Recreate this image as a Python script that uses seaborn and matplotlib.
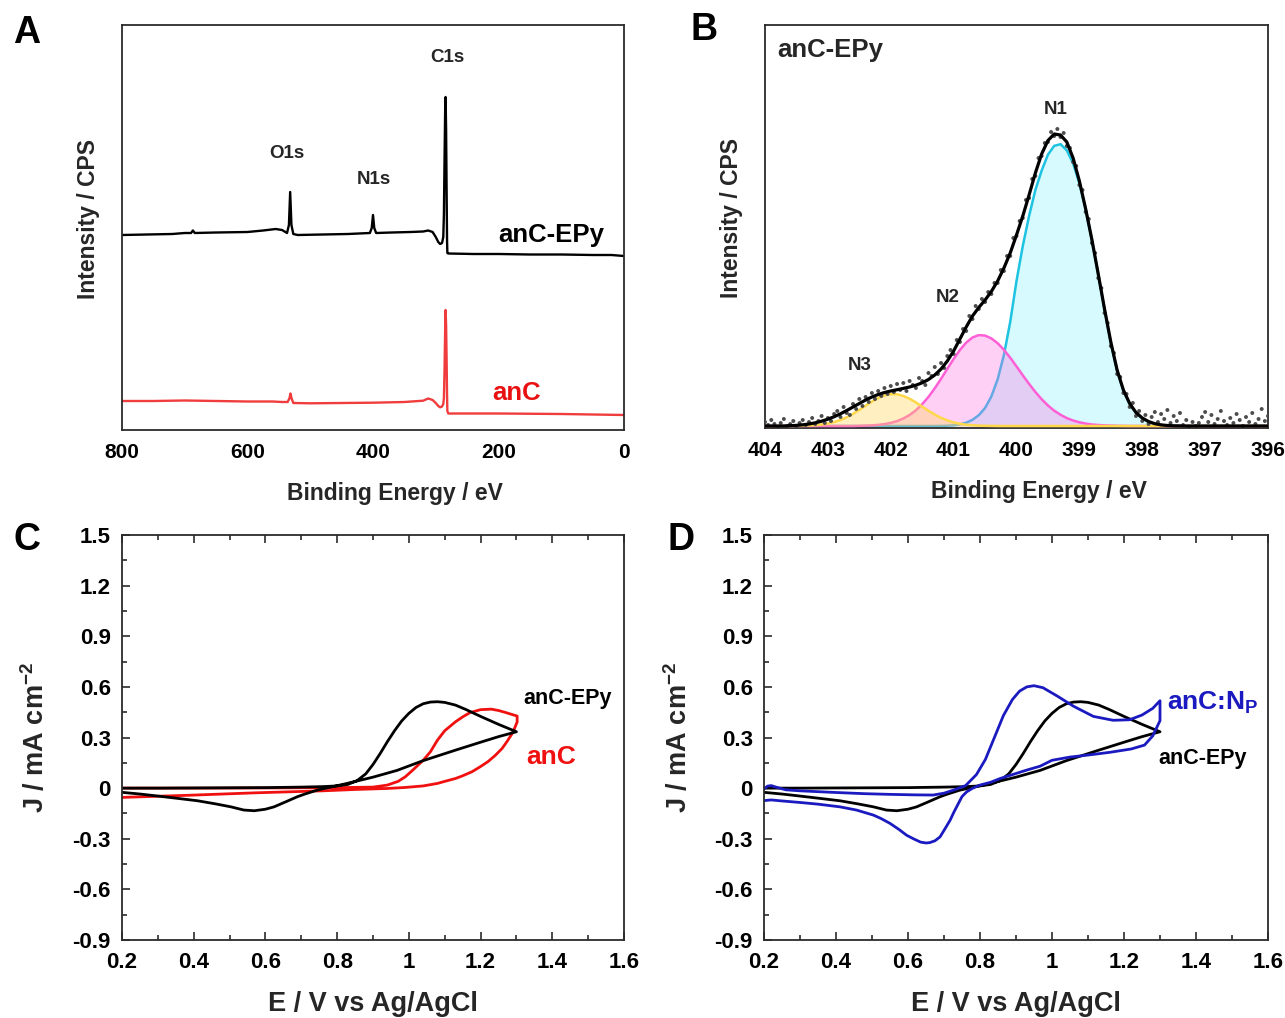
import matplotlib
matplotlib.use("Agg")
import matplotlib.pyplot as plt
import seaborn as sns
import numpy as np
from matplotlib.ticker import MultipleLocator, FuncFormatter

# ---------------- Panel A: XPS survey ----------------
A_BE_EPY = [800, 760, 720, 700, 690, 687, 684, 650, 600, 575,
            555, 545, 537, 534, 532, 530, 527, 520, 480, 440,
            405, 402, 400, 398, 395, 370, 340, 320, 312, 305,
            300, 296, 293, 290, 288, 287, 286, 285, 284.3, 283.5,
            282.7, 282, 281.5, 280, 240, 200, 150, 100, 50, 20, 0]
A_I_EPY = [195, 195.5, 196, 197, 197, 199.5, 197, 197.5, 198, 199.5,
           201, 200, 197, 205, 238, 205, 196, 195, 195.5, 196,
           197, 202, 215, 202, 197, 197.5, 198, 198.5, 199.5, 198,
           193, 188, 186, 187, 193, 215, 270, 320, 333, 300,
           240, 190, 177, 176.5, 176, 176, 175.5, 175.5, 175, 175, 174]
A_BE_ANC = [800, 750, 700, 650, 600, 560, 545, 536, 533, 531.5,
            530, 527, 500, 450, 400, 350, 320, 312, 305, 300,
            296, 293, 290, 288, 287, 286, 285, 284.3, 283.5, 282.7,
            282, 281.5, 280, 200, 100, 0]
A_I_ANC = [29, 29, 29.5, 29, 28.5, 28.5, 28, 28, 32, 36.5,
           32, 27, 26.7, 27, 27.3, 28, 29.3, 31.5, 30, 27,
           24, 22.7, 23.5, 26, 32, 60, 100, 120, 105, 70,
           35, 19, 16.5, 16.5, 16, 15]

# ---------------- Panel B: N1s high resolution ----------------
B_BE = [404.0, 403.9, 403.8, 403.7, 403.6, 403.5, 403.4, 403.3, 403.2, 403.1,
        403.0, 402.9, 402.8, 402.7, 402.6, 402.5, 402.4, 402.3, 402.2, 402.1,
        402.0, 401.9, 401.8, 401.7, 401.6, 401.5, 401.4, 401.3, 401.2, 401.1,
        401.0, 400.9, 400.8, 400.7, 400.6, 400.5, 400.4, 400.3, 400.2, 400.1,
        400.0, 399.9, 399.8, 399.7, 399.6, 399.5, 399.4, 399.3, 399.2, 399.1,
        399.0, 398.9, 398.8, 398.7, 398.6, 398.5, 398.4, 398.3, 398.2, 398.1,
        398.0, 397.9, 397.8, 397.7, 397.6, 397.5, 397.4, 397.3, 397.2, 397.1,
        397.0, 396.9, 396.8, 396.7, 396.6, 396.5, 396.4, 396.3, 396.2, 396.1, 396.0]
B_N3 = [0, 0, 0, 0, 0, 0.1, 0.2, 0.5, 0.8, 1.5,
        2.5, 4.0, 6.0, 8.8, 12.2, 16.1, 20.3, 24.4, 27.9, 30.5,
        31.9, 31.7, 30.1, 27.3, 23.6, 19.4, 15.3, 11.4, 8.2, 5.6,
        3.6, 2.2, 1.3, 0.8, 0.4, 0.2, 0.1, 0, 0, 0,
        0, 0, 0, 0, 0, 0, 0, 0, 0, 0,
        0, 0, 0, 0, 0, 0, 0, 0, 0, 0,
        0, 0, 0, 0, 0, 0, 0, 0, 0, 0,
        0, 0, 0, 0, 0, 0, 0, 0, 0, 0, 0]
B_N2 = [0, 0, 0, 0, 0, 0, 0, 0, 0, 0,
        0, 0, 0, 0, 0, 0.2, 0.4, 0.6, 1.1, 1.9,
        3.1, 4.9, 7.5, 11.0, 15.7, 21.8, 29.1, 37.7, 47.2, 57.2,
        67.0, 76.0, 83.4, 88.5, 90.9, 90.4, 87.6, 82.8, 76.2, 68.3,
        59.6, 50.7, 42.1, 34.0, 26.8, 20.5, 15.3, 11.2, 7.9, 5.5,
        3.7, 2.4, 1.5, 1.0, 0.6, 0.4, 0.2, 0.1, 0, 0,
        0, 0, 0, 0, 0, 0, 0, 0, 0, 0,
        0, 0, 0, 0, 0, 0, 0, 0, 0, 0, 0]
B_N1 = [0, 0, 0, 0, 0, 0, 0, 0, 0, 0,
        0, 0, 0, 0, 0, 0, 0, 0, 0, 0,
        0, 0, 0, 0, 0, 0, 0, 0, 0.1, 0.3,
        0.7, 1.6, 3.3, 6.2, 10.8, 18.0, 29.5, 46.6, 71.0, 104.0,
        145.0, 180.0, 210.0, 236.0, 255.4, 271.3, 280.2, 281.8, 275.7, 262.6,
        242.8, 217.0, 185.8, 151.5, 116.5, 83.0, 55.4, 35.5, 22.0, 13.2,
        7.8, 4.2, 2.1, 1.0, 0.4, 0.2, 0.1, 0, 0, 0,
        0, 0, 0, 0, 0, 0, 0, 0, 0, 0, 0]
B_FIT = [0, 0, 0, 0, 0.3, 0.6, 1.2, 2.0, 3.2, 4.8,
         6.8, 9.3, 12.2, 15.5, 19.0, 22.5, 26.0, 29.0, 31.5, 33.5,
         35.0, 36.3, 37.6, 39.0, 40.8, 43.2, 46.5, 51.0, 57.0, 65.0,
         75.0, 87.0, 99.0, 110.0, 118.5, 126.0, 134.5, 145.0, 158.0, 173.0,
         191.0, 210.0, 231.0, 253.0, 272.0, 285.5, 292.0, 291.0, 284.0, 268.0,
         245.0, 217.0, 186.0, 152.0, 117.0, 84.0, 56.0, 36.0, 22.5, 13.5,
         8.0, 4.5, 2.3, 1.1, 0.5, 0.2, 0.1, 0, 0, 0,
         0, 0, 0, 0, 0, 0, 0, 0, 0, 0, 0]
B_RAW_BE = [404.00, 403.95, 403.90, 403.85, 403.80, 403.75, 403.70, 403.65, 403.60, 403.55,
            403.50, 403.45, 403.40, 403.35, 403.30, 403.25, 403.20, 403.15, 403.10, 403.05,
            403.00, 402.95, 402.90, 402.85, 402.80, 402.75, 402.70, 402.65, 402.60, 402.55,
            402.50, 402.45, 402.40, 402.35, 402.30, 402.25, 402.20, 402.15, 402.10, 402.05,
            402.00, 401.95, 401.90, 401.85, 401.80, 401.75, 401.70, 401.65, 401.60, 401.55,
            401.50, 401.45, 401.40, 401.35, 401.30, 401.25, 401.20, 401.15, 401.10, 401.05,
            401.00, 400.95, 400.90, 400.85, 400.80, 400.75, 400.70, 400.65, 400.60, 400.55,
            400.50, 400.45, 400.40, 400.35, 400.30, 400.25, 400.20, 400.15, 400.10, 400.05,
            400.00, 399.95, 399.90, 399.85, 399.80, 399.75, 399.70, 399.65, 399.60, 399.55,
            399.50, 399.45, 399.40, 399.35, 399.30, 399.25, 399.20, 399.15, 399.10, 399.05,
            399.00, 398.95, 398.90, 398.85, 398.80, 398.75, 398.70, 398.65, 398.60, 398.55,
            398.50, 398.45, 398.40, 398.35, 398.30, 398.25, 398.20, 398.15, 398.10, 398.05,
            398.00, 397.95, 397.90, 397.85, 397.80, 397.75, 397.70, 397.65, 397.60, 397.55,
            397.50, 397.45, 397.40, 397.35, 397.30, 397.25, 397.20, 397.15, 397.10, 397.05,
            397.00, 396.95, 396.90, 396.85, 396.80, 396.75, 396.70, 396.65, 396.60, 396.55,
            396.50, 396.45, 396.40, 396.35, 396.30, 396.25, 396.20, 396.15, 396.10, 396.05,
            396.00]
B_RAW_I = [4, 1, 6, 2, -1, 3, 7, 0, 2, 5,
           -1, 3, 6, 1, 4, 8, 2, 5, 10, 3,
           8, 5, 12, 15, 9, 19, 13, 11, 22, 17,
           27, 20, 29, 24, 33, 27, 35, 30, 38, 32,
           40, 34, 42, 36, 43, 35, 45, 41, 38, 48,
           45, 41, 53, 50, 59, 52, 63, 58, 70, 76,
           72, 86, 84, 97, 95, 110, 107, 120, 117, 127,
           124, 134, 132, 143, 143, 156, 155, 170, 170, 188,
           190, 205, 208, 226, 228, 247, 250, 268, 270, 283,
           284, 294, 290, 297, 289, 293, 280, 278, 264, 260,
           241, 236, 214, 207, 183, 173, 148, 138, 113, 103,
           80, 73, 52, 49, 33, 32, 19, 23, 10, 15,
           5, 11, 2, 9, 14, 4, 12, 7, 16, 3,
           10, 5, 13, 1, 6, -2, 4, 0, 3, 9,
           14, 4, 11, 2, 7, 15, 5, 1, 8, 3,
           12, 6, 0, 9, 4, 13, 2, 7, 17, 5,
           10]

# ---------------- Panels C, D: cyclic voltammetry ----------------
EPY_E = [0.20, 0.30, 0.40, 0.50, 0.60, 0.70, 0.76, 0.80, 0.83, 0.856,
         0.88, 0.90, 0.92, 0.94, 0.96, 0.98, 1.00, 1.02, 1.04, 1.06,
         1.08, 1.10, 1.13, 1.16, 1.20, 1.25, 1.30,
         1.25, 1.20, 1.13, 1.04, 0.967, 0.90, 0.828, 0.78, 0.744, 0.71,
         0.689, 0.66, 0.624, 0.60, 0.569, 0.54, 0.504, 0.46, 0.411, 0.36,
         0.30, 0.25, 0.20]
EPY_J = [0.000, 0.000, 0.001, 0.002, 0.003, 0.006, 0.009, 0.013, 0.022, 0.045,
         0.085, 0.140, 0.205, 0.275, 0.340, 0.398, 0.443, 0.478, 0.500, 0.510,
         0.512, 0.508, 0.492, 0.465, 0.425, 0.378, 0.334,
         0.305, 0.272, 0.225, 0.163, 0.105, 0.065, 0.028, 0.005, -0.012, -0.035,
         -0.051, -0.078, -0.111, -0.125, -0.134, -0.130, -0.111, -0.093, -0.075, -0.062,
         -0.047, -0.035, -0.025]
ANC_E = [0.20, 0.40, 0.60, 0.80, 0.90, 0.94, 0.97, 0.99, 1.01, 1.04,
         1.06, 1.08, 1.10, 1.13, 1.15, 1.17, 1.20, 1.23, 1.25, 1.27,
         1.302, 1.302,
         1.29, 1.275, 1.26, 1.24, 1.22, 1.20, 1.176, 1.15, 1.13, 1.10,
         1.08, 1.04, 0.99, 0.94, 0.85, 0.76, 0.57, 0.39, 0.20]
ANC_J = [0.000, 0.000, 0.001, 0.003, 0.006, 0.018, 0.040, 0.067, 0.105, 0.165,
         0.215, 0.285, 0.340, 0.393, 0.422, 0.447, 0.465, 0.468, 0.460, 0.448,
         0.427, 0.392,
         0.330, 0.280, 0.235, 0.192, 0.156, 0.128, 0.097, 0.073, 0.057, 0.040,
         0.028, 0.013, 0.004, -0.002, -0.008, -0.016, -0.028, -0.042, -0.055]
NP_E = [0.200, 0.210, 0.220, 0.235, 0.260, 0.300, 0.390, 0.480, 0.550, 0.620,
        0.670, 0.700, 0.726, 0.760, 0.790, 0.815, 0.840, 0.865, 0.890, 0.910,
        0.930, 0.950, 0.975, 1.015, 1.060, 1.115, 1.170, 1.215, 1.250, 1.280,
        1.300, 1.300,
        1.280, 1.257, 1.220, 1.160, 1.100, 1.050, 1.000, 0.967, 0.930, 0.890,
        0.856, 0.830, 0.800, 0.780, 0.763, 0.750, 0.740, 0.728, 0.717, 0.703,
        0.689, 0.675, 0.660, 0.650, 0.635, 0.615, 0.596, 0.575, 0.550, 0.525,
        0.504, 0.457, 0.411, 0.350, 0.300, 0.250, 0.220, 0.200]
NP_J = [-0.005, 0.012, 0.015, 0.005, -0.010, -0.016, -0.025, -0.033, -0.037, -0.040,
        -0.041, -0.030, -0.012, 0.015, 0.080, 0.170, 0.300, 0.430, 0.525, 0.575,
        0.600, 0.607, 0.595, 0.545, 0.485, 0.425, 0.402, 0.405, 0.433, 0.473,
        0.518, 0.400,
        0.310, 0.255, 0.232, 0.212, 0.196, 0.184, 0.165, 0.130, 0.107, 0.080,
        0.057, 0.035, 0.018, 0.000, -0.022, -0.050, -0.091, -0.140, -0.190, -0.240,
        -0.289, -0.312, -0.323, -0.325, -0.320, -0.300, -0.279, -0.245, -0.209, -0.180,
        -0.160, -0.130, -0.111, -0.095, -0.085, -0.076, -0.070, -0.074]

# ---------------- style ----------------
sns.set_theme(style="white")
plt.rcParams['font.family'] = ['Liberation Sans', 'DejaVu Sans']
plt.rcParams['font.weight'] = 'bold'
plt.rcParams['axes.labelweight'] = 'bold'
plt.rcParams['mathtext.fontset'] = 'custom'
plt.rcParams['mathtext.rm'] = 'Liberation Sans:bold'
plt.rcParams['mathtext.bf'] = 'Liberation Sans:bold'
plt.rcParams['mathtext.it'] = 'Liberation Sans:bold:italic'
plt.rcParams['mathtext.default'] = 'bf'

SPINE = '#2b2b2b'
W, H = 1285, 1018
fig = plt.figure(figsize=(W / 100, H / 100), dpi=100)


def add_axes(l, t, r, b):
    return fig.add_axes([l / W, 1 - b / H, (r - l) / W, (b - t) / H])


def style(ax, fs):
    for s in ax.spines.values():
        s.set_color(SPINE)
        s.set_linewidth(1.3)
        s.set_visible(True)
    ax.tick_params(which='both', direction='in', color=SPINE, width=1.2,
                   labelsize=fs, labelcolor='black')
    ax.tick_params(which='major', length=6)
    ax.tick_params(which='minor', length=3.5)
    ax.set_facecolor('white')


gfmt = FuncFormatter(lambda v, p: f"{round(v, 2):g}")

axA = add_axes(122, 25, 624, 430)
axB = add_axes(765, 25, 1268, 428)
axC = add_axes(122, 535, 624, 940)
axD = add_axes(764, 535, 1268, 940)

# ---- Panel A ----
sns.lineplot(x=A_BE_EPY, y=A_I_EPY, ax=axA, color='black', linewidth=1.7,
             sort=False, estimator=None)
sns.lineplot(x=A_BE_ANC, y=A_I_ANC, ax=axA, color='#f03c3c', linewidth=1.7,
             sort=False, estimator=None)
axA.set_xlim(800, 0)
axA.set_ylim(0, 405)
style(axA, 15)
axA.xaxis.set_major_locator(MultipleLocator(200))
axA.xaxis.set_minor_locator(MultipleLocator(100))
axA.xaxis.set_major_formatter(gfmt)
axA.set_yticks([])
axA.tick_params(axis='x', pad=9)
axA.set_xlabel('Binding Energy / eV', fontsize=16.5)
axA.set_ylabel('Intensity / CPS', fontsize=16.5)
axA.xaxis.set_label_coords(0.544, -0.128)
axA.yaxis.set_label_coords(-0.044, 0.52)
axA.text(537, 277, 'O1s', ha='center', va='center', fontsize=13.5)
axA.text(398, 250, 'N1s', ha='center', va='center', fontsize=13.5)
axA.text(282, 373, 'C1s', ha='center', va='center', fontsize=13.5)
axA.text(116, 195, 'anC-EPy', ha='center', va='center', fontsize=18.5, color='black')
axA.text(172, 37, 'anC', ha='center', va='center', fontsize=18.5, color='#e81010')

# ---- Panel B ----
axB.fill_between(B_BE, B_N1, 0, color='#d6fafd', linewidth=0, zorder=1)
sns.lineplot(x=B_BE, y=B_N1, ax=axB, color='#1ec3e2', linewidth=1.8, sort=False,
             estimator=None, zorder=2)
axB.fill_between(B_BE, B_N2, 0, color='#ff6fe6', alpha=0.32, linewidth=0, zorder=3)
sns.lineplot(x=B_BE, y=B_N2, ax=axB, color='#ff5fd6', linewidth=1.8, sort=False,
             estimator=None, zorder=4)
axB.fill_between(B_BE, B_N3, 0, color='#ffd65c', alpha=0.38, linewidth=0, zorder=5)
sns.lineplot(x=B_BE, y=B_N3, ax=axB, color='#ffd84a', linewidth=1.8, sort=False,
             estimator=None, zorder=6)
sns.scatterplot(x=B_RAW_BE, y=B_RAW_I, ax=axB, s=8, color='#4d4d4d',
                edgecolor='none', linewidth=0, zorder=7)
sns.lineplot(x=B_BE, y=B_FIT, ax=axB, color='black', linewidth=2.3, sort=False,
             estimator=None, zorder=8)
axB.set_xlim(404, 396)
axB.set_ylim(-2, 401)
style(axB, 15)
axB.xaxis.set_major_locator(MultipleLocator(1))
axB.xaxis.set_minor_locator(MultipleLocator(0.5))
axB.xaxis.set_major_formatter(gfmt)
axB.set_yticks([])
axB.tick_params(axis='x', pad=9)
axB.set_xlabel('Binding Energy / eV', fontsize=16.5)
axB.set_ylabel('Intensity / CPS', fontsize=16.5)
axB.xaxis.set_label_coords(0.544, -0.128)
axB.yaxis.set_label_coords(-0.044, 0.52)
axB.text(0.024, 0.938, 'anC-EPy', transform=axB.transAxes, ha='left', va='center',
         fontsize=18.5)
axB.text(399.37, 317, 'N1', ha='center', va='center', fontsize=13.5)
axB.text(401.09, 129, 'N2', ha='center', va='center', fontsize=13.5)
axB.text(402.49, 61, 'N3', ha='center', va='center', fontsize=13.5)

# ---- Panels C, D ----
for ax in (axC, axD):
    ax.set_xlim(0.2, 1.6)
    ax.set_ylim(-0.9, 1.5)
    style(ax, 16)
    ax.xaxis.set_major_locator(MultipleLocator(0.2))
    ax.xaxis.set_minor_locator(MultipleLocator(0.1))
    ax.yaxis.set_major_locator(MultipleLocator(0.3))
    ax.yaxis.set_minor_locator(MultipleLocator(0.15))
    ax.xaxis.set_major_formatter(gfmt)
    ax.yaxis.set_major_formatter(gfmt)
    ax.tick_params(axis='x', which='both', top=True, bottom=True, pad=9)
    ax.tick_params(axis='y', which='both', left=True, right=False, pad=8)
    ax.set_xlabel('E / V vs Ag/AgCl', fontsize=19.5)
    ax.set_ylabel(r'J / mA cm$^{\mathbf{-2}}$', fontsize=19.5)
    ax.xaxis.set_label_coords(0.50, -0.125)

axC.yaxis.set_label_coords(-0.143, 0.5)
axD.yaxis.set_label_coords(-0.141, 0.5)

sns.lineplot(x=ANC_E, y=ANC_J, ax=axC, color='#f01010', linewidth=2.0, sort=False,
             estimator=None)
sns.lineplot(x=EPY_E, y=EPY_J, ax=axC, color='black', linewidth=2.0, sort=False,
             estimator=None)
axC.text(1.444, 0.533, 'anC-EPy', ha='center', va='center', fontsize=15.5, color='black')
axC.text(1.396, 0.184, 'anC', ha='center', va='center', fontsize=19, color='#f01010')

sns.lineplot(x=EPY_E, y=EPY_J, ax=axD, color='black', linewidth=2.0, sort=False,
             estimator=None)
sns.lineplot(x=NP_E, y=NP_J, ax=axD, color='#1a1ac0', linewidth=2.0, sort=False,
             estimator=None)
axD.text(1.447, 0.504, r'anC:N$_{\mathbf{P}}$', ha='center', va='center', fontsize=19,
         color='#1a1ac0')
axD.text(1.419, 0.178, 'anC-EPy', ha='center', va='center', fontsize=15.5, color='black')

# ---- panel letters ----
for lbl, px, py in (('A', 27, 33), ('B', 704, 30), ('C', 27, 540), ('D', 681, 540)):
    fig.text(px / W, 1 - py / H, lbl, ha='center', va='center', fontsize=27,
             fontweight='bold', color='black')

fig.savefig('out.png', dpi=100, facecolor='white')
